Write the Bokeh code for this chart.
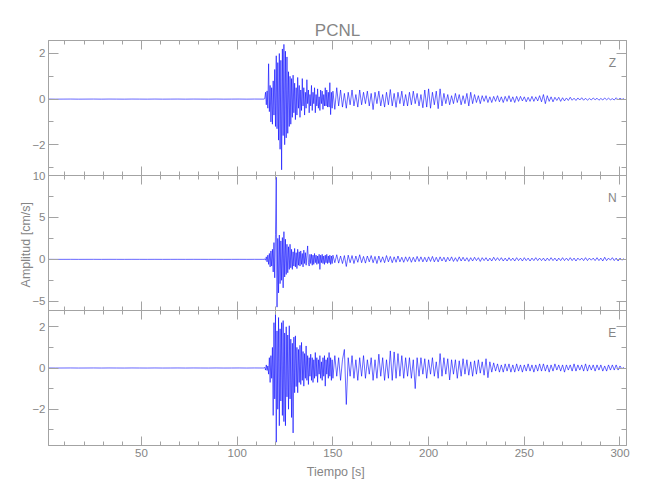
import numpy as np
from bokeh.plotting import figure
from bokeh.models import Range1d, LinearAxis, SingleIntervalTicker, Label, ColumnDataSource
from bokeh.layouts import column
from bokeh.embed import file_html
from bokeh.resources import INLINE

# ---------------- data ----------------
TITLE = "PCNL"
X_LABEL = "Tiempo  [s]"
Y_LABEL = "Amplitud  [cm/s]"
COMPONENTS = ["Z", "N", "E"]
X_RANGE = (1.4, 303.4)
Y_RANGES = {"Z": (-3.35, 2.57), "N": (-6.1, 10.0), "E": (-3.76, 2.79)}
Y_TICK_INTERVAL = {"Z": 2, "N": 5, "E": 2}
X_TICK_INTERVAL = 50

# sampling of the three record segments (start, step in s)
PRE_T0, PRE_DT = 1.0, 4.0
STRONG_T0, STRONG_DT = 114.0, 0.4
CODA_T0, CODA_DT = 150.0, 1.0

pre_noise = [0.002, -0.002, 0.000, 0.002, -0.002, 0.000, 0.002, -0.002, 0.002, 0.000,
             -0.002, 0.002, 0.000, -0.002, 0.002, -0.002, 0.000, 0.002, -0.002, 0.002,
             0.000, -0.002, 0.002, -0.002, 0.000, 0.002, -0.002, 0.002, 0.000]

z_strong = [0.00, 0.02, 0.30, -0.25, 0.36, -0.40, 1.55, -0.55, 0.60, -1.00,
            0.50, -1.10, 0.80, -0.70, 1.30, -1.20, 1.90, -1.30, 1.60, -1.80,
            2.00, -2.20, 1.70, -3.10, 2.20, -1.60, 2.40, -2.00, 2.10, -1.70,
            1.85, -1.50, 1.20, -1.20, 1.00, -1.10, 0.90, -0.80, 1.05, -0.60,
            0.70, -0.90, 0.50, -0.70, 0.95, -0.40, 0.60, -0.80, 0.40, -0.50,
            0.90, -0.30, 0.50, -0.70, 0.30, -0.40, 0.85, -0.20, 0.40, -0.60,
            0.20, -0.30, 0.60, -0.50, 0.30, -0.20, 0.50, -0.60, 0.20, -0.30,
            0.45, -0.40, 0.10, -0.50, 0.40, -0.20, 0.35, -0.45, 0.20, -0.30,
            0.50, -0.30, 0.40, -0.35, 0.30, -0.35, 0.72, -0.68, 0.30, -0.40]
z_coda = [0.35, -0.45, 0.50, -0.30, 0.40, -0.35, 0.25, -0.40, 0.30, -0.25,
          0.40, -0.30, 0.20, -0.35, 0.40, -0.25, 0.30, -0.20, 0.35, -0.30,
          0.25, -0.46, 0.30, -0.20, 0.35, -0.30, 0.20, -0.35, 0.30, -0.25,
          0.42, -0.30, 0.25, -0.36, 0.30, -0.20, 0.35, -0.30, 0.20, -0.30,
          0.30, -0.25, 0.35, -0.20, 0.25, -0.30, 0.20, -0.38, 0.40, -0.35,
          0.45, -0.40, 0.30, -0.25, 0.35, -0.42, 0.45, -0.30, 0.25, -0.20,
          0.20, -0.25, 0.15, -0.20, 0.25, -0.15, 0.20, -0.25, 0.15, -0.20,
          0.25, -0.30, 0.30, -0.20, 0.20, -0.15, 0.15, -0.20, 0.15, -0.10,
          0.15, -0.15, 0.10, -0.15, 0.12, -0.10, 0.15, -0.12, 0.10, -0.15,
          0.12, -0.10, 0.15, -0.12, 0.10, -0.15, 0.12, -0.10, 0.12, -0.08,
          0.10, -0.12, 0.08, -0.10, 0.12, -0.10, 0.10, -0.08, 0.15, -0.12,
          0.20, -0.20, 0.15, -0.10, 0.10, -0.12, 0.08, -0.06, 0.08, -0.10,
          0.06, -0.08, 0.05, -0.06, 0.08, -0.05, 0.04, -0.06, 0.05, -0.04,
          0.06, -0.05, 0.04, -0.05, 0.03, -0.04, 0.05, -0.03, 0.04, -0.05,
          0.03, -0.04, 0.05, -0.03, 0.04, -0.03, 0.02, -0.04, 0.06, -0.03,
          0.04, -0.02, 0.03]

n_strong = [0.00, 0.05, -0.10, 0.30, -0.30, 0.50, -0.60, 0.70, -0.90, 1.00,
            -0.80, 1.20, -1.50, 2.00, -2.20, 3.00, 9.80, -5.70, 2.50, -4.00,
            2.90, -2.90, 2.20, -2.50, 2.60, -3.40, 3.30, -2.10, 2.40, -1.80,
            1.80, -1.60, 1.50, -1.20, 1.80, -1.00, 1.20, -1.20, 0.90, -0.80,
            1.30, -0.90, 0.80, -1.10, 1.20, -0.70, 0.90, -0.80, 1.00, -0.60,
            0.70, -0.90, 1.10, -0.50, 0.80, -0.70, 0.50, 1.60, -0.40, -0.80,
            0.60, -0.50, 0.60, -0.70, 0.50, -0.60, 0.70, -0.40, 0.50, -0.60,
            0.40, -0.50, 0.60, -1.20, 0.50, -0.40, 0.60, -0.50, 0.40, -0.60,
            0.50, -0.40, 0.60, -0.50, 0.40, -0.40, 0.50, -0.60, 0.40, -0.50]
n_coda = [0.50, -0.40, 0.55, -0.45, 0.40, -0.50, 0.45, -0.85, 0.50, -0.40,
          0.45, -0.50, 0.40, -0.35, 0.55, -0.40, 0.35, -0.45, 0.40, -0.30,
          0.45, -0.40, 0.35, -0.50, 0.40, -0.35, 0.30, -0.40, 0.45, -0.30,
          0.35, -0.40, 0.30, -0.35, 0.40, -0.30, 0.25, -0.35, 0.30, -0.25,
          0.30, -0.35, 0.25, -0.30, 0.35, -0.25, 0.30, -0.30, 0.25, -0.30,
          0.30, -0.25, 0.35, -0.30, 0.25, -0.30, 0.30, -0.20, 0.25, -0.30,
          0.25, -0.20, 0.30, -0.25, 0.20, -0.25, 0.30, -0.20, 0.25, -0.20,
          0.20, -0.25, 0.20, -0.20, 0.25, -0.15, 0.20, -0.25, 0.20, -0.15,
          0.20, -0.20, 0.15, -0.20, 0.25, -0.15, 0.20, -0.15, 0.20, -0.20,
          0.15, -0.20, 0.20, -0.15, 0.15, -0.20, 0.20, -0.15, 0.15, -0.20,
          0.20, -0.15, 0.15, -0.20, 0.15, -0.15, 0.20, -0.15, 0.15, -0.15,
          0.15, -0.20, 0.15, -0.15, 0.20, -0.15, 0.15, -0.20, 0.15, -0.15,
          0.20, -0.15, 0.15, -0.15, 0.20, -0.15, 0.15, -0.20, 0.15, -0.10,
          0.15, -0.15, 0.20, -0.15, 0.15, -0.10, 0.15, -0.15, 0.20, -0.15,
          0.15, -0.20, 0.25, -0.15, 0.15, -0.10, 0.20, -0.15, 0.15, -0.20,
          0.15, -0.10, 0.10]

e_strong = [0.00, 0.03, -0.10, 0.15, -0.12, 0.10, -0.30, 0.50, -0.70, 0.60,
            -0.50, 1.00, -2.30, 2.20, -1.50, 2.60, -3.60, 1.80, -2.00, 2.45,
            -2.80, 1.90, -1.60, 2.20, -2.30, 2.30, -2.60, 1.70, -2.80, 2.00,
            -1.40, 1.60, -2.00, 2.05, -1.50, 1.40, -2.40, 1.20, -3.15, 1.50,
            -1.20, 1.56, -0.90, 1.00, -1.20, 0.90, -0.70, 1.10, -0.80, 1.24,
            -0.60, 0.80, -0.88, 0.70, -0.50, 1.07, -0.60, 0.60, -0.80, 0.50,
            -0.40, 0.67, -0.60, 0.50, -0.70, 0.40, -0.50, 0.75, -0.40, 0.50,
            -0.70, 0.40, -0.30, 0.60, -0.50, 0.30, -0.60, 0.50, -0.40, 0.60,
            -0.88, 0.40, -0.30, 0.50, -0.50, 0.75, -0.40, 0.50, -0.60, 0.40]
e_coda = [-0.50, 0.60, -0.40, 0.50, -0.60, 0.40, 0.90, -1.77, 0.50, -0.40,
          0.60, -0.50, 0.40, -0.60, 0.50, -0.40, 0.60, -0.50, 0.40, -0.30,
          0.50, -0.60, 0.40, -0.50, 0.67, -0.40, 0.50, -0.60, 0.40, -0.50,
          0.83, -0.60, 0.78, -0.50, 0.70, -0.40, 0.60, -0.50, 0.50, -0.40,
          0.50, -0.50, 0.40, -1.00, 0.50, -0.40, 0.50, -0.30, 0.45, -0.50,
          0.40, -0.30, 0.50, -0.40, 0.30, -0.50, 0.70, -0.40, 0.50, -0.30,
          0.45, -0.58, 0.40, -0.30, 0.40, -0.50, 0.35, -0.40, 0.45, -0.30,
          0.40, -0.35, 0.30, -0.40, 0.35, -0.30, 0.40, -0.25, 0.30, -0.35,
          0.45, -0.47, 0.30, -0.20, 0.25, -0.15, 0.20, -0.20, 0.15, -0.20,
          0.20, -0.15, 0.20, -0.20, 0.15, -0.20, 0.20, -0.15, 0.15, -0.20,
          0.15, -0.15, 0.20, -0.15, 0.15, -0.20, 0.15, -0.15, 0.20, -0.15,
          0.20, -0.15, 0.15, -0.20, 0.15, -0.15, 0.20, -0.10, 0.15, -0.15,
          0.15, -0.20, 0.15, -0.10, 0.15, -0.15, 0.20, -0.15, 0.15, -0.10,
          0.15, -0.15, 0.20, -0.15, 0.15, -0.10, 0.15, -0.15, 0.15, -0.10,
          0.15, -0.15, 0.10, -0.15, 0.15, -0.10, 0.15, -0.10, 0.15, -0.10,
          0.10, -0.05, 0.05]

SEGMENTS = {"Z": (z_strong, z_coda), "N": (n_strong, n_coda), "E": (e_strong, e_coda)}

# ---------------- style ----------------
FONT = "Liberation Sans"
AXIS_COLOR = "#a3a3a3"
TEXT_COLOR = "#858585"
TRACE_COLOR = "#0000ff"
FRAME_W, FRAME_H = 578, 135


def times(t0, dt, n):
    return t0 + dt * np.arange(n)


def style_axis(ax, ticker, tick_major, tick_minor, show_labels):
    ax.ticker = ticker
    ax.axis_line_color = AXIS_COLOR
    ax.major_tick_line_color = AXIS_COLOR
    ax.minor_tick_line_color = AXIS_COLOR
    ax.major_tick_in = tick_major
    ax.major_tick_out = 0
    ax.minor_tick_in = tick_minor
    ax.minor_tick_out = 0
    if show_labels:
        ax.major_label_text_font = FONT
        ax.major_label_text_font_size = "11.5px"
        ax.major_label_text_color = TEXT_COLOR
        ax.major_label_standoff = 3
    else:
        ax.major_label_text_font_size = "0px"
        ax.major_label_text_color = None
        ax.major_label_standoff = 0


x_range = Range1d(*X_RANGE)
xticker = SingleIntervalTicker(interval=X_TICK_INTERVAL, num_minor_ticks=5)

borders = {"Z": (40, 2), "N": (10, 2), "E": (2, 45)}
margins = {"Z": None, "N": (-12, 0, 0, 0), "E": (-4, 0, 0, 0)}

panels = []
for comp in COMPONENTS:
    lo, hi = Y_RANGES[comp]
    top_b, bot_b = borders[comp]
    p = figure(frame_width=FRAME_W, frame_height=FRAME_H,
               x_range=x_range, y_range=Range1d(lo, hi),
               output_backend="svg", toolbar_location=None,
               min_border_left=48, min_border_right=10,
               min_border_top=top_b, min_border_bottom=bot_b)
    p.xgrid.visible = False
    p.ygrid.visible = False
    p.outline_line_color = AXIS_COLOR
    p.background_fill_color = "white"
    if comp != "Z":
        p.border_fill_alpha = 0
    if margins[comp] is not None:
        p.margin = margins[comp]

    left_ax = p.yaxis[0]
    bottom_ax = p.xaxis[0]
    yticker = SingleIntervalTicker(interval=Y_TICK_INTERVAL[comp], num_minor_ticks=2)
    style_axis(left_ax, yticker, 10, 5, True)
    style_axis(bottom_ax, xticker, 9, 4, comp == "E")
    top_ax = LinearAxis()
    style_axis(top_ax, xticker, 9, 4, False)
    p.add_layout(top_ax, "above")
    right_ax = LinearAxis()
    style_axis(right_ax, yticker, 10, 5, False)
    p.add_layout(right_ax, "right")

    strong, coda = SEGMENTS[comp]
    t = np.concatenate([times(PRE_T0, PRE_DT, len(pre_noise)),
                        times(STRONG_T0, STRONG_DT, len(strong)),
                        times(CODA_T0, CODA_DT, len(coda))])
    v = np.concatenate([pre_noise, strong, coda])
    src = ColumnDataSource(dict(t=t, v=v))
    p.line(x="t", y="v", source=src, line_color=TRACE_COLOR, line_width=0.6)

    p.add_layout(Label(x=296, y=lo + 0.837 * (hi - lo), text=comp,
                       text_font=FONT, text_font_size="12px", text_color=TEXT_COLOR,
                       text_align="center", text_baseline="middle"))

    if comp == "Z":
        p.title.text = TITLE
        p.title.align = "center"
        p.title.text_font = FONT
        p.title.text_font_size = "17px"
        p.title.text_font_style = "normal"
        p.title.text_color = TEXT_COLOR
        p.title.standoff = 2
    if comp == "N":
        left_ax.axis_label = Y_LABEL
        left_ax.axis_label_text_font = FONT
        left_ax.axis_label_text_font_size = "12.5px"
        left_ax.axis_label_text_font_style = "normal"
        left_ax.axis_label_text_color = TEXT_COLOR
        left_ax.axis_label_standoff = -4
    if comp == "E":
        bottom_ax.axis_label = X_LABEL
        bottom_ax.axis_label_text_font = FONT
        bottom_ax.axis_label_text_font_size = "12.5px"
        bottom_ax.axis_label_text_font_style = "normal"
        bottom_ax.axis_label_text_color = TEXT_COLOR
        bottom_ax.axis_label_standoff = 5
    panels.append(p)

layout = column(*panels, spacing=0)
open("out.html", "w").write(file_html(layout, INLINE))
